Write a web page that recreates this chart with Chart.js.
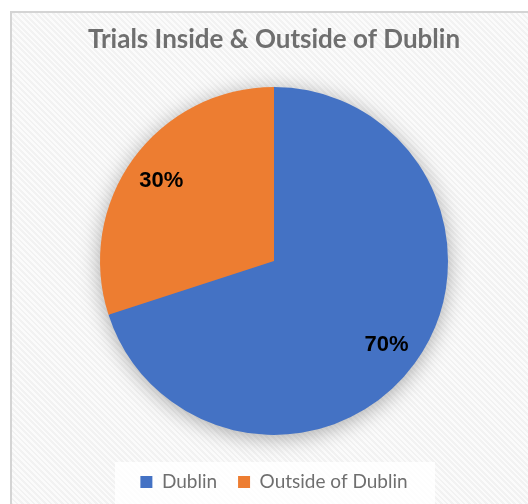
<!DOCTYPE html>
<html lang="en">
<head>
    <meta charset="UTF-8">
    <title>Trials Inside & Outside of Dublin</title>
    <script src="https://cdn.jsdelivr.net/npm/chart.js"></script>
    <style>
        html, body {
            margin: 0;
            padding: 0;
            background: #ffffff;
            overflow: hidden;
        }
        #frame {
            position: absolute;
            left: 10px;
            top: 11px;
            width: 600px;
            height: 600px;
            border: 2px solid #d4d4d4;
            background: repeating-linear-gradient(45deg, #f2f2f2 0px, #f2f2f2 2px, #fbfbfb 2px, #fbfbfb 4px);
        }
        #wrap {
            position: absolute;
            left: 0;
            top: 0;
            width: 528px;
            height: 504px;
        }
    </style>
</head>
<body>
    <div id="frame"></div>
    <div id="wrap"><canvas id="chart" width="528" height="504"></canvas></div>
    <script>
        // data
        const labels = ['Dublin', 'Outside of Dublin'];
        const values = [70, 30];
        const colors = ['#4472C4', '#ED7D31'];

        // soft shadow under the whole pie
        const pieShadow = {
            id: 'pieShadow',
            beforeDatasetsDraw(chart) {
                const arcs = chart.getDatasetMeta(0).data;
                if (!arcs.length) return;
                const a = arcs[0];
                const ctx = chart.ctx;
                ctx.save();
                ctx.shadowColor = 'rgba(0,0,0,0.35)';
                ctx.shadowBlur = 22;
                ctx.shadowOffsetY = 3;
                ctx.fillStyle = colors[0];
                ctx.beginPath();
                ctx.arc(a.x, a.y, a.outerRadius - 1, 0, Math.PI * 2);
                ctx.fill();
                ctx.restore();
            }
        };

        // fixed legend height + white panel behind it
        const legendPanel = {
            id: 'legendPanel',
            beforeInit(chart) {
                const fit = chart.legend.fit;
                chart.legend.fit = function () {
                    fit.call(this);
                    this.height = 52.5;
                };
            },
            beforeDraw(chart) {
                const ctx = chart.ctx;
                ctx.save();
                ctx.fillStyle = 'rgba(255,255,255,0.85)';
                ctx.fillRect(115, 462, 320, 50);
                ctx.restore();
            }
        };

        // percentage labels inside the slices
        const sliceLabels = {
            id: 'sliceLabels',
            afterDatasetsDraw(chart) {
                const ctx = chart.ctx;
                const total = values.reduce((s, v) => s + v, 0);
                ctx.save();
                ctx.font = 'bold 22px "Liberation Sans", Arial, sans-serif';
                ctx.fillStyle = '#000000';
                ctx.textAlign = 'center';
                ctx.textBaseline = 'middle';
                chart.getDatasetMeta(0).data.forEach((arc, i) => {
                    const mid = (arc.startAngle + arc.endAngle) / 2;
                    const r = arc.outerRadius * 0.8;
                    const x = arc.x + Math.cos(mid) * r;
                    const y = arc.y + Math.sin(mid) * r + 2;
                    ctx.fillText(Math.round(values[i] / total * 100) + '%', x, y);
                });
                ctx.restore();
            }
        };

        new Chart(document.getElementById('chart'), {
            type: 'pie',
            data: {
                labels: labels,
                datasets: [{
                    data: values,
                    backgroundColor: colors,
                    borderWidth: 0,
                    radius: 174
                }]
            },
            options: {
                responsive: false,
                animation: false,
                layout: {
                    padding: { left: 20, right: 0, top: 0, bottom: 0 }
                },
                plugins: {
                    title: {
                        display: true,
                        text: 'Trials Inside & Outside of Dublin',
                        color: '#6f6f6f',
                        font: { family: 'Lato', size: 26, weight: 'bold', lineHeight: 1.2 },
                        padding: { top: 24.4, bottom: 14.9 }
                    },
                    legend: {
                        position: 'bottom',
                        labels: {
                            boxWidth: 12,
                            boxHeight: 12,
                            padding: 21,
                            color: '#6f6f6f',
                            font: { family: 'Lato', size: 19 }
                        }
                    },
                    tooltip: { enabled: false }
                }
            },
            plugins: [pieShadow, legendPanel, sliceLabels]
        });
    </script>
</body>
</html>
